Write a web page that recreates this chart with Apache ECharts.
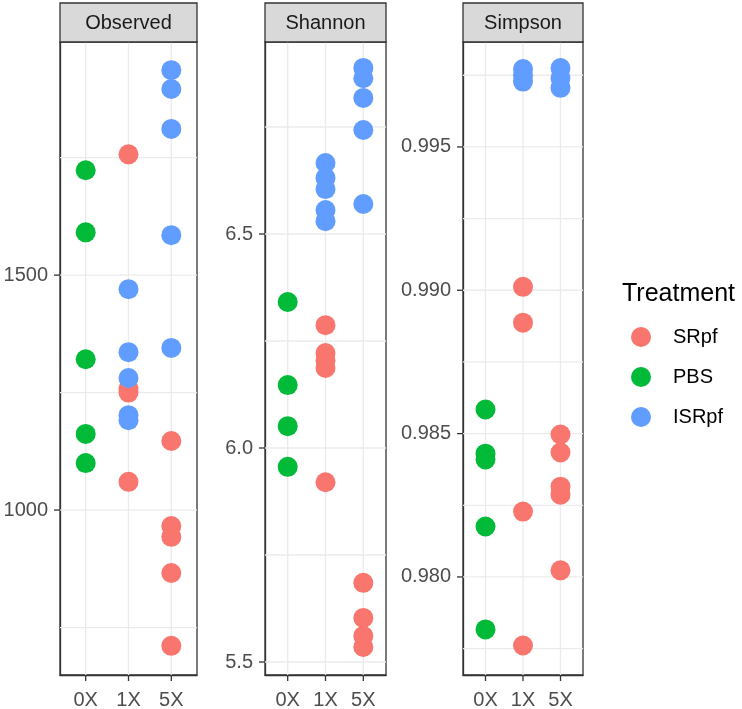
<!DOCTYPE html>
<html>
<head>
<meta charset="utf-8">
<script src="https://cdn.jsdelivr.net/npm/echarts@6/dist/echarts.min.js"></script>
<style>
html,body{margin:0;padding:0;background:#fff;}
#chart{width:742px;height:709px;}
</style>
</head>
<body>
<div id="chart"></div>
<script>
// ---- categories ----
const doses = ['0X', '1X', '5X'];
const treatments = ['SRpf', 'PBS', 'ISRpf'];
const metrics = ['Observed', 'Shannon', 'Simpson'];
const treatmentColors = ['#F8766D', '#00BA38', '#619CFF'];

// ---- Observed ----
const observedSRpf = [['1X', 1757], ['1X', 1258], ['1X', 1250], ['1X', 1060],
  ['5X', 1147], ['5X', 966], ['5X', 943], ['5X', 866], ['5X', 711]];
const observedPBS = [['0X', 1723], ['0X', 1591], ['0X', 1321], ['0X', 1162], ['0X', 1100]];
const observedISRpf = [['1X', 1470], ['1X', 1336], ['1X', 1281], ['1X', 1202], ['1X', 1191],
  ['5X', 1936], ['5X', 1896], ['5X', 1811], ['5X', 1585], ['5X', 1345]];

// ---- Shannon ----
const shannonSRpf = [['1X', 6.287], ['1X', 6.222], ['1X', 6.205], ['1X', 6.187], ['1X', 5.920],
  ['5X', 5.685], ['5X', 5.603], ['5X', 5.561], ['5X', 5.535]];
const shannonPBS = [['0X', 6.341], ['0X', 6.147], ['0X', 6.051], ['0X', 5.956]];
const shannonISRpf = [['1X', 6.666], ['1X', 6.631], ['1X', 6.605], ['1X', 6.556], ['1X', 6.530],
  ['5X', 6.888], ['5X', 6.864], ['5X', 6.818], ['5X', 6.743], ['5X', 6.570]];

// ---- Simpson ----
const simpsonSRpf = [['1X', 0.99012], ['1X', 0.98887], ['1X', 0.98228], ['1X', 0.97761],
  ['5X', 0.98497], ['5X', 0.98434], ['5X', 0.98315], ['5X', 0.98287], ['5X', 0.98023]];
const simpsonPBS = [['0X', 0.98584], ['0X', 0.98430], ['0X', 0.98410], ['0X', 0.98176], ['0X', 0.97817]];
const simpsonISRpf = [['1X', 0.99772], ['1X', 0.99750], ['1X', 0.99728],
  ['5X', 0.99775], ['5X', 0.99740], ['5X', 0.99706]];

// ---- axis ranges and ticks ----
const observedRange = [649, 1996];
const shannonRange = [5.4696, 6.9486];
const simpsonRange = [0.97658, 0.99866];
const observedTicks = [1000, 1500];
const shannonTicks = [5.5, 6.0, 6.5];
const simpsonTicks = [0.980, 0.985, 0.990, 0.995];
const observedGridVals = [750, 1000, 1250, 1500, 1750];
const shannonGridVals = [5.5, 5.75, 6.0, 6.25, 6.5, 6.75];
const simpsonGridVals = [0.9775, 0.980, 0.9825, 0.985, 0.9875, 0.990, 0.9925, 0.995, 0.9975];
const tickDecimals = [0, 1, 3];

// ---- layout (pixels) ----
const FONT = 'Liberation Sans, Arial, sans-serif';
const panelLeft = [60, 265, 463];
const panelWidth = [137, 121, 120];
const panelTop = 42, panelBottom = 675, stripTop = 3;
const TICK_LEN = 6;

const seriesData = [
  [observedSRpf, observedPBS, observedISRpf],
  [shannonSRpf, shannonPBS, shannonISRpf],
  [simpsonSRpf, simpsonPBS, simpsonISRpf]
];
const ranges = [observedRange, shannonRange, simpsonRange];
const ticks = [observedTicks, shannonTicks, simpsonTicks];
const gridVals = [observedGridVals, shannonGridVals, simpsonGridVals];

const grids = [], xAxes = [], yAxes = [], series = [], graphics = [];
const doseIdx = doses.map((d, i) => i);
const darkLine = { color: '#333333', width: 1.3 };

metrics.forEach((m, p) => {
  grids.push({
    left: panelLeft[p], width: panelWidth[p], top: panelTop,
    height: panelBottom - panelTop,
    show: true, borderColor: '#333333', borderWidth: 1.3, backgroundColor: '#ffffff',
    containLabel: false, outerBoundsMode: 'none'
  });
  xAxes.push({
    gridIndex: p, type: 'value', min: -0.6, max: 2.6, position: 'bottom',
    axisLine: { show: true, onZero: false, lineStyle: darkLine },
    axisTick: { show: false },
    axisLabel: { customValues: doseIdx, formatter: v => doses[Math.round(v)], fontSize: 20,
      color: '#4D4D4D', margin: 15, fontFamily: FONT },
    splitLine: { show: false }
  });
  const dec = tickDecimals[p];
  yAxes.push({
    gridIndex: p, type: 'value', min: ranges[p][0], max: ranges[p][1], position: 'left',
    axisLine: { show: true, onZero: false, lineStyle: darkLine },
    axisTick: { show: false },
    axisLabel: { customValues: ticks[p], formatter: v => Number(v).toFixed(dec), fontSize: 20,
      color: '#4D4D4D', margin: 12, fontFamily: FONT },
    splitLine: { show: false }
  });
  treatments.forEach((t, k) => {
    series.push({
      name: t, type: 'scatter', xAxisIndex: p, yAxisIndex: p,
      symbol: 'circle', symbolSize: 20, z: 5,
      itemStyle: { color: treatmentColors[k], opacity: 1 },
      emphasis: { disabled: true },
      data: seriesData[p][k].map(d => [doses.indexOf(d[0]), d[1]])
    });
  });
  graphics.push({
    type: 'rect', shape: { x: panelLeft[p], y: stripTop, width: panelWidth[p], height: panelTop - stripTop },
    style: { fill: '#D9D9D9', stroke: '#333333', lineWidth: 1.3 }, z: 10
  });
  graphics.push({
    type: 'text', x: panelLeft[p] + panelWidth[p] / 2, y: (stripTop + panelTop) / 2 + 1,
    style: { text: m, fill: '#1A1A1A', font: '20px ' + FONT, textAlign: 'center', textVerticalAlign: 'middle' }, z: 11
  });
});

const chart = echarts.init(document.getElementById('chart'), null, { renderer: 'canvas' });
chart.setOption({
  animation: false,
  backgroundColor: '#ffffff',
  textStyle: { fontFamily: FONT },
  title: { text: 'Treatment', left: 622, top: 282, padding: 0,
    textStyle: { fontSize: 25, fontWeight: 'normal', color: '#000000', fontFamily: FONT } },
  legend: {
    orient: 'vertical', left: 631, top: 327, padding: 0,
    itemWidth: 20, itemHeight: 20, itemGap: 20, icon: 'circle',
    selectedMode: false, data: treatments,
    textStyle: { fontSize: 20, color: '#000000', padding: [0, 0, 0, 17], fontFamily: FONT }
  },
  grid: grids, xAxis: xAxes, yAxis: yAxes, series: series,
  graphic: graphics
});

// grid lines and tick marks placed through the library's own axis scales
const extra = [];
metrics.forEach((m, p) => {
  const left = chart.convertToPixel({ gridIndex: p }, [-0.6, ranges[p][0]]);
  const right = chart.convertToPixel({ gridIndex: p }, [2.6, ranges[p][1]]);
  gridVals[p].forEach(v => {
    const pt = chart.convertToPixel({ gridIndex: p }, [0, v]);
    extra.push({ type: 'line', z: 1, shape: { x1: left[0], y1: pt[1], x2: right[0], y2: pt[1] },
      style: { stroke: '#EBEBEB', lineWidth: 1.3 } });
  });
  doseIdx.forEach(v => {
    const pt = chart.convertToPixel({ gridIndex: p }, [v, ranges[p][0]]);
    extra.push({ type: 'line', z: 1, shape: { x1: pt[0], y1: right[1], x2: pt[0], y2: left[1] },
      style: { stroke: '#EBEBEB', lineWidth: 1.3 } });
    extra.push({ type: 'line', z: 12, shape: { x1: pt[0], y1: left[1], x2: pt[0], y2: left[1] + TICK_LEN },
      style: { stroke: '#333333', lineWidth: 1.3 } });
  });
  ticks[p].forEach(v => {
    const pt = chart.convertToPixel({ gridIndex: p }, [-0.6, v]);
    extra.push({ type: 'line', z: 12, shape: { x1: pt[0] - TICK_LEN, y1: pt[1], x2: pt[0], y2: pt[1] },
      style: { stroke: '#333333', lineWidth: 1.3 } });
  });
});
chart.setOption({ graphic: graphics.concat(extra) });
</script>
</body>
</html>
